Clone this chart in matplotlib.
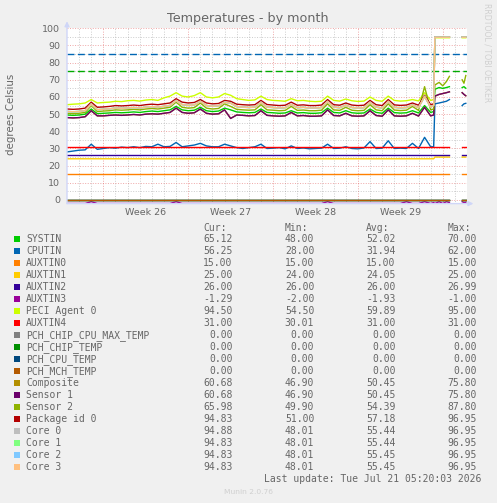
import numpy as np
import matplotlib
matplotlib.use('Agg')
import matplotlib.pyplot as plt
from matplotlib.patches import Rectangle

W, H = 497, 503

# time in days from the left edge of the graph (week 26 starts at day 3)
t_main = list(np.arange(0, 30.01, 0.5))
t_tail = [30.25, 30.35, 30.7, 31.0, 31.3, 31.55]
t_end = [32.6, 32.75, 32.9]

week_labels = ['Week 26', 'Week 27', 'Week 28', 'Week 29']
week_label_pos = [6.5, 13.5, 20.5, 27.5]
week_starts = [3, 10, 17, 24, 31]

# ---- series values (main period + tail, then the short piece at the end) ----
systin = [49.5, 49.3, 49.5, 50.0, 53.0, 50.3, 50.5, 50.7, 51.0, 50.8, 51.0, 51.3, 51.0, 51.5, 51.8, 51.5,
          52.0, 52.5, 54.5, 52.5, 52.0, 52.3, 54.0, 52.0, 51.5, 51.8, 53.5, 52.5, 51.3, 51.0, 50.8, 51.0,
          53.0, 51.0, 50.8, 50.5, 50.7, 52.0, 50.7, 50.9, 50.5, 50.5, 50.8, 53.5, 51.0, 50.7, 52.0, 50.8,
          50.5, 50.7, 53.0, 51.0, 50.5, 53.5, 50.9, 50.6, 50.8, 52.0, 50.7, 55.0, 51.0,
          51.5, 64.5, 65.5, 65.0, 65.5, 66.0]
systin_end = [65.5, 66.0, 65.1]

cputin = [28.0, 28.5, 29.0, 29.2, 32.5, 29.5, 30.0, 30.5, 30.2, 30.8, 30.5, 31.0, 30.5, 31.2, 31.0, 32.5,
          31.0, 31.2, 33.5, 31.0, 31.5, 32.0, 33.0, 31.5, 31.0, 31.0, 32.5, 31.5, 30.5, 30.0, 30.5, 31.0,
          32.5, 30.0, 30.2, 30.5, 29.8, 31.5, 30.0, 30.3, 29.8, 30.0, 30.2, 32.5, 30.0, 30.2, 31.0, 30.0,
          29.8, 30.3, 34.0, 30.0, 30.2, 34.5, 30.0, 30.2, 30.0, 33.0, 30.0, 36.5, 31.0,
          31.0, 56.0, 56.5, 57.0, 57.5, 58.5]
cputin_end = [55.0, 56.0, 56.3]

auxtin0 = [15.0] * 67
auxtin0_end = [15.0] * 3
auxtin1 = [24.0] * 62 + [25.0] * 5
auxtin1_end = [25.0] * 3
auxtin2 = [26.0] * 67
auxtin2_end = [26.0] * 3
auxtin3 = [-2.0, -2.0, -2.0, -2.0, -1.0, -2.0, -2.0, -2.0, -2.0, -2.0, -2.0, -2.0, -2.0, -2.0, -2.0, -2.0,
           -2.0, -2.0, -1.0, -2.0, -2.0, -2.0, -2.0, -2.0, -2.0, -2.0, -2.0, -2.0, -2.0, -2.0, -2.0, -2.0,
           -2.0, -2.0, -2.0, -2.0, -2.0, -2.0, -2.0, -2.0, -2.0, -2.0, -2.0, -1.0, -2.0, -2.0, -2.0, -2.0,
           -2.0, -2.0, -2.0, -2.0, -2.0, -2.0, -2.0, -2.0, -1.0, -2.0, -2.0, -1.0, -2.0,
           -1.5, -2.0, -1.0, -2.0, -1.0, -1.5]
auxtin3_end = [-1.0, -1.5, -1.3]

peci = [55.5, 55.8, 56.0, 56.5, 58.5, 56.5, 56.8, 57.0, 57.5, 57.3, 57.8, 58.0, 57.6, 58.2, 58.5, 58.0,
        59.5, 60.5, 62.5, 60.5, 60.0, 60.8, 62.5, 60.0, 59.5, 60.0, 62.0, 61.0, 59.0, 58.5, 58.0, 58.3,
        60.5, 58.5, 58.0, 57.8, 57.5, 59.0, 57.8, 58.0, 57.5, 57.3, 57.5, 60.5, 58.0, 57.6, 58.8, 57.8,
        57.4, 57.6, 60.0, 58.0, 57.5, 60.5, 58.0, 57.6, 57.8, 58.5, 57.7, 62.5, 58.0,
        58.5, 94.5, 94.5, 94.5, 94.5, 94.5]
peci_end = [94.5, 94.5, 94.5]

auxtin4 = [31.0] * 67
auxtin4_end = [31.0] * 3
pch_zero = [0.0] * 67
pch_zero_end = [0.0] * 3

sensor1 = [48.0, 47.8, 48.0, 48.5, 52.0, 49.0, 49.0, 49.3, 49.5, 49.3, 49.5, 49.8, 49.5, 50.0, 50.2, 50.0,
           50.5, 51.0, 53.5, 51.0, 50.5, 50.8, 53.0, 50.5, 50.0, 50.2, 52.5, 47.5, 49.5, 49.3, 49.0, 49.2,
           52.0, 49.3, 49.0, 48.8, 49.0, 51.0, 49.0, 49.2, 48.8, 48.8, 49.0, 52.5, 49.2, 49.0, 50.5, 49.0,
           48.8, 49.0, 52.0, 49.2, 48.8, 52.5, 49.0, 48.8, 49.0, 50.5, 48.9, 54.0, 49.0,
           49.5, 60.5, 61.5, 62.0, 62.5, 63.0]
sensor1_end = [62.5, 61.5, 60.7]
composite = sensor1
composite_end = sensor1_end

sensor2 = [50.5, 50.3, 50.5, 51.0, 55.0, 51.5, 51.8, 52.0, 52.5, 52.3, 52.5, 52.8, 52.5, 53.0, 53.3, 53.0,
           53.5, 54.0, 57.0, 54.0, 53.5, 53.8, 56.5, 53.5, 53.0, 53.3, 56.0, 54.5, 52.8, 52.5, 52.3, 52.5,
           55.5, 52.5, 52.3, 52.0, 52.2, 54.5, 52.2, 52.4, 52.0, 52.0, 52.3, 56.0, 52.5, 52.2, 54.0, 52.3,
           52.0, 52.2, 55.5, 52.5, 52.0, 56.0, 52.4, 52.1, 52.3, 54.5, 52.2, 66.0, 52.5,
           53.0, 67.0, 68.5, 66.5, 69.0, 72.0]
sensor2_end = [70.0, 68.0, 72.5]

package0 = [53.0, 52.8, 53.0, 53.5, 57.0, 54.0, 54.2, 54.5, 55.0, 54.8, 55.0, 55.3, 55.0, 55.5, 55.8, 55.5,
            56.0, 56.5, 59.0, 57.0, 56.5, 56.8, 58.5, 56.5, 56.0, 56.2, 58.0, 57.5, 55.8, 55.5, 55.3, 55.5,
            58.0, 55.6, 55.3, 55.0, 55.2, 57.0, 55.2, 55.4, 55.0, 55.0, 55.3, 58.5, 55.5, 55.2, 56.5, 55.3,
            55.0, 55.2, 58.0, 55.5, 55.0, 58.5, 55.4, 55.1, 55.3, 56.5, 55.2, 61.0, 55.5,
            56.0, 95.0, 95.0, 95.0, 95.0, 95.0]
package0_end = [95.0, 95.0, 95.0]

core0 = [51.5, 51.3, 51.5, 52.0, 56.0, 52.5, 52.8, 53.0, 53.5, 53.3, 53.5, 53.8, 53.5, 54.0, 54.3, 54.0,
         54.5, 55.0, 58.0, 55.5, 55.0, 55.3, 57.5, 55.0, 54.5, 54.8, 57.0, 56.5, 54.3, 54.0, 53.8, 54.0,
         57.0, 54.0, 53.8, 53.5, 53.7, 55.8, 53.7, 53.9, 53.5, 53.5, 53.8, 57.5, 54.0, 53.7, 55.3, 53.8,
         53.5, 53.7, 57.0, 54.0, 53.5, 57.5, 53.9, 53.6, 53.8, 55.5, 53.7, 60.5, 54.0,
         55.0, 95.0, 94.8, 94.8, 95.0, 94.8]
core0_end = [94.9, 94.9, 94.9]
cores123 = [51.6, 51.4, 51.6, 52.1, 55.8, 52.6, 52.9, 53.1, 53.6, 53.4, 53.6, 53.9, 53.6, 54.1, 54.4, 54.1,
            54.6, 55.1, 57.8, 55.6, 55.1, 55.4, 57.4, 55.1, 54.6, 54.9, 56.9, 56.4, 54.4, 54.1, 53.9, 54.1,
            56.8, 54.1, 53.9, 53.6, 53.8, 55.6, 53.8, 54.0, 53.6, 53.6, 53.9, 57.3, 54.1, 53.8, 55.2, 53.9,
            53.6, 53.8, 56.8, 54.1, 53.6, 57.3, 54.0, 53.7, 53.9, 55.4, 53.8, 60.3, 54.1,
            55.1, 94.8, 94.8, 94.8, 94.8, 94.8]
cores123_end = [94.8, 94.8, 94.8]

# legend table
names = ['SYSTIN', 'CPUTIN', 'AUXTIN0', 'AUXTIN1', 'AUXTIN2', 'AUXTIN3', 'PECI Agent 0', 'AUXTIN4',
         'PCH_CHIP_CPU_MAX_TEMP', 'PCH_CHIP_TEMP', 'PCH_CPU_TEMP', 'PCH_MCH_TEMP', 'Composite',
         'Sensor 1', 'Sensor 2', 'Package id 0', 'Core 0', 'Core 1', 'Core 2', 'Core 3']
colors = ['#00CC00', '#0066B3', '#FF8000', '#FFCC00', '#330099', '#990099', '#CCFF00', '#FF0000',
          '#808080', '#008F00', '#00487D', '#B35A00', '#B38F00', '#6B006B', '#8FB300', '#B30000',
          '#BEBEBE', '#80FF80', '#80C9FF', '#FFC080']
cur = [65.12, 56.25, 15.00, 25.00, 26.00, -1.29, 94.50, 31.00, 0, 0, 0, 0, 60.68, 60.68, 65.98, 94.83,
       94.88, 94.83, 94.83, 94.83]
mins = [48.00, 28.00, 15.00, 24.00, 26.00, -2.00, 54.50, 30.01, 0, 0, 0, 0, 46.90, 46.90, 49.90, 51.00,
        48.01, 48.01, 48.01, 48.01]
avgs = [52.02, 31.94, 15.00, 24.05, 26.00, -1.93, 59.89, 31.00, 0, 0, 0, 0, 50.45, 50.45, 54.39, 57.18,
        55.44, 55.44, 55.45, 55.45]
maxs = [70.00, 62.00, 15.00, 25.00, 26.99, -1.00, 95.00, 31.00, 0, 0, 0, 0, 75.80, 75.80, 87.80, 96.95,
        96.95, 96.95, 96.95, 96.95]

hrule_values = [85, 75]
hrule_colors = ['#0066B3', '#00AA00']

series = [(systin, systin_end), (cputin, cputin_end), (auxtin0, auxtin0_end), (auxtin1, auxtin1_end),
          (auxtin2, auxtin2_end), (auxtin3, auxtin3_end), (peci, peci_end), (auxtin4, auxtin4_end),
          (pch_zero, pch_zero_end), (pch_zero, pch_zero_end), (pch_zero, pch_zero_end),
          (pch_zero, pch_zero_end), (composite, composite_end), (sensor1, sensor1_end),
          (sensor2, sensor2_end), (package0, package0_end), (core0, core0_end),
          (cores123, cores123_end), (cores123, cores123_end), (cores123, cores123_end)]

FONT = '#666666'
AXIS = '#CFD6F8'

fig = plt.figure(figsize=(W / 100, H / 100), dpi=100, facecolor='#F0F0F0')
ax_l, ax_r, ax_t, ax_b = 67, 467, 28.3, 203.6
ax = fig.add_axes([ax_l / W, 1 - ax_b / H, (ax_r - ax_l) / W, (ax_b - ax_t) / H])
ax.set_facecolor('white')
ax.set_xlim(0, 33)
ax.set_ylim(-2.1, 100)

# grid like rrdtool: gray minor, pink major
dot = (0, (1, 1.6))
for d in range(1, 33):
    if d not in week_starts:
        ax.axvline(d, color='#8f8f8f', alpha=0.45, lw=0.7, ls=dot, zorder=0)
for d in week_starts:
    ax.axvline(d, color='#de5050', alpha=0.5, lw=0.7, ls=dot, zorder=0)
for v in range(5, 101, 10):
    ax.axhline(v, color='#8f8f8f', alpha=0.45, lw=0.7, ls=dot, zorder=0)
for v in range(0, 101, 10):
    ax.axhline(v, color='#de5050', alpha=0.5, lw=0.7, ls=dot, zorder=0)

for v, c in zip(hrule_values, hrule_colors):
    ax.axhline(v, color=c, lw=1.0, dashes=(5, 2.5), zorder=1)

t_all = t_main + t_tail + [np.nan] + t_end
for (vals, vals_end), c in zip(series, colors):
    y = list(vals) + [np.nan] + list(vals_end)
    ax.plot(t_all, y, color=c, lw=1.0, zorder=2)

for s in ax.spines.values():
    s.set_visible(False)
ax.annotate('', xy=(0, 1.04), xytext=(0, 0), xycoords='axes fraction',
            arrowprops=dict(arrowstyle='-|>', color=AXIS, lw=1.0, mutation_scale=7, shrinkA=0, shrinkB=0))
ax.annotate('', xy=(1.016, 0), xytext=(0, 0), xycoords='axes fraction',
            arrowprops=dict(arrowstyle='-|>', color=AXIS, lw=1.0, mutation_scale=7, shrinkA=0, shrinkB=0))

ax.set_xticks(week_label_pos, week_labels)
ax.set_yticks(range(0, 101, 10))
ax.tick_params(length=0, labelsize=6.8, colors=FONT)
ax.tick_params(axis='y', pad=5)
ax.tick_params(axis='x', pad=3)

fig.text(248 / W, 1 - 18.5 / H, 'Temperatures - by month', ha='center', va='center', fontsize=9.2, color=FONT)
fig.text(11 / W, 1 - 114 / H, 'degrees Celsius', rotation=90, ha='center', va='center', fontsize=7.4,
         color=FONT)
fig.text(487 / W, 1 - 53 / H, 'RRDTOOL / TOBI OETIKER', rotation=270, ha='center', va='center',
         fontsize=5.6, color='#d0d0d0')

# legend table
mono = 'DejaVu Sans Mono'
cw = 5.85
col_right = [232.7, 314.2, 395.5, 476.8]
for x, h in zip(col_right, ['Cur:', 'Min:', 'Avg:', 'Max:']):
    fig.text((x - 5 * cw) / W, 1 - 227.7 / H, h, ha='left', va='center', family=mono, fontsize=7, color=FONT)
for i, name in enumerate(names):
    yc = 239.3 + 12 * i
    fig.add_artist(Rectangle((14 / W, 1 - (yc + 3) / H), 6 / W, 6 / H, transform=fig.transFigure,
                             facecolor=colors[i], edgecolor='none'))
    fig.text(26 / W, 1 - yc / H, name, ha='left', va='center', family=mono, fontsize=7, color=FONT)
    for x, v in zip(col_right, [cur[i], mins[i], avgs[i], maxs[i]]):
        fig.text(x / W, 1 - yc / H, '%.2f' % v, ha='right', va='center', family=mono, fontsize=7,
                 color=FONT)

fig.text(481 / W, 1 - 479.3 / H, 'Last update: Tue Jul 21 05:20:03 2026', ha='right', va='center',
         family=mono, fontsize=7, color=FONT)
fig.text(248 / W, 1 - 492 / H, 'Munin 2.0.76', ha='center', va='center', fontsize=5.4, color='#d0d0d0')

fig.savefig('out.png', dpi=100, facecolor=fig.get_facecolor())
